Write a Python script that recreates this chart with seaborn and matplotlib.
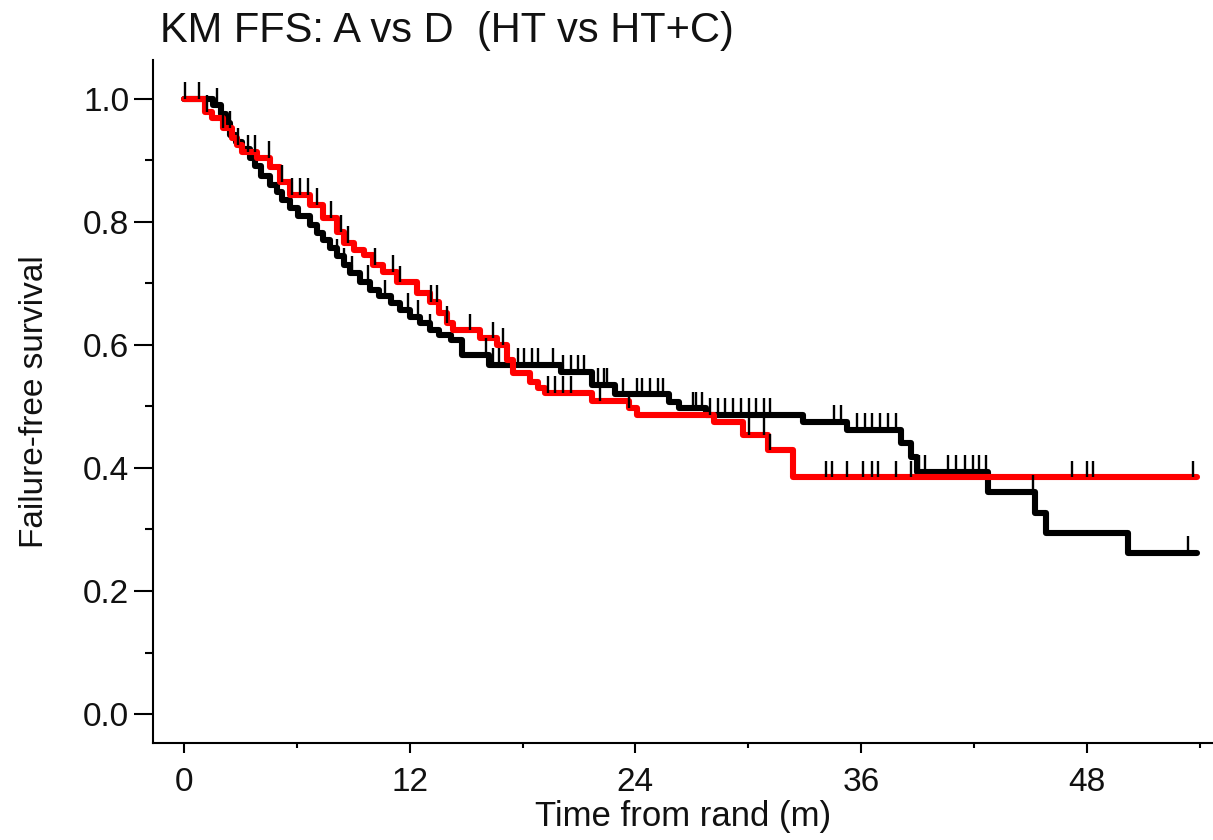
import numpy as np
import pandas as pd
import matplotlib
matplotlib.use("Agg")
import matplotlib.pyplot as plt
import seaborn as sns
from matplotlib.ticker import MultipleLocator

# step points of the two KM curves (time in months, survival after the step)
arm_a_time = [0, 1.54, 1.95, 2.26, 2.47, 2.78, 3.08, 3.5, 3.8, 4.11, 4.57, 4.93, 5.24, 5.65,
              6.07, 6.68, 7.09, 7.4, 7.76, 8.12, 8.53, 8.84, 9.35, 9.87, 10.38, 11.0, 11.51,
              12.03, 12.54, 13.06, 13.57, 14.19, 14.8, 16.24, 20.05, 21.69, 22.92, 25.8,
              26.32, 27.76, 32.9, 35.26, 38.14, 38.65, 38.96, 42.76, 45.23, 45.85, 50.17]
arm_a_surv = [1.0, 0.99, 0.975, 0.96, 0.941, 0.93, 0.918, 0.904, 0.89, 0.875, 0.86, 0.848,
              0.836, 0.823, 0.81, 0.795, 0.782, 0.77, 0.758, 0.745, 0.73, 0.717, 0.703, 0.69,
              0.679, 0.668, 0.657, 0.646, 0.635, 0.624, 0.616, 0.608, 0.584, 0.568, 0.556,
              0.535, 0.52, 0.507, 0.497, 0.486, 0.475, 0.462, 0.44, 0.418, 0.394, 0.361,
              0.327, 0.294, 0.262]
arm_a_end = 53.87

arm_d_time = [0, 1.13, 1.49, 2.06, 2.57, 2.83, 3.08, 3.91, 4.57, 5.09, 5.65, 6.68, 7.4, 8.12,
              8.53, 9.05, 9.56, 10.07, 10.59, 11.31, 12.39, 13.06, 13.57, 13.98, 14.29, 15.73,
              16.65, 17.17, 17.48, 18.4, 18.81, 19.22, 21.69, 23.64, 24.06, 28.17, 29.71,
              31.05, 32.38]
arm_d_surv = [1.0, 0.979, 0.969, 0.953, 0.937, 0.925, 0.914, 0.904, 0.889, 0.865, 0.844,
              0.828, 0.807, 0.784, 0.766, 0.754, 0.746, 0.73, 0.719, 0.702, 0.685, 0.67,
              0.652, 0.636, 0.624, 0.611, 0.6, 0.576, 0.555, 0.54, 0.53, 0.522, 0.509, 0.497,
              0.486, 0.475, 0.454, 0.429, 0.385]
arm_d_end = 53.87

# censoring times
arm_a_cens = [1.75, 8.12, 8.53, 8.94, 9.77, 10.69, 11.92, 12.44, 13.06, 14.8, 16.04, 16.45,
              16.76, 17.78, 18.09, 18.5, 18.81, 19.63, 20.15, 20.56, 20.97, 21.28, 22.0,
              22.31, 22.51, 23.34, 24.06, 24.36, 24.77, 25.19, 25.49, 27.04, 27.24, 27.55,
              27.96, 28.37, 28.78, 29.2, 29.61, 30.02, 30.43, 30.84, 31.15, 34.54, 34.95,
              35.77, 36.19, 36.6, 37.01, 37.42, 37.83, 39.06, 39.37, 40.61, 41.02, 41.53,
              41.94, 42.25, 42.66, 45.13, 53.35]
arm_d_cens = [0.05, 0.82, 1.23, 2.06, 2.47, 2.88, 3.39, 3.8, 4.52, 5.24, 5.76, 6.17, 6.58,
              7.09, 7.81, 8.33, 8.74, 10.18, 11.1, 11.51, 13.16, 13.47, 13.98, 15.21, 16.45,
              16.96, 19.33, 19.74, 20.15, 20.56, 22.1, 23.64, 30.02, 30.84, 31.15, 34.13,
              34.44, 35.26, 36.08, 36.6, 36.91, 37.83, 38.65, 47.19, 48.01, 48.32, 53.66]

arms = ["A (HT)", "D (HT+C)"]
colors = {"A (HT)": "black", "D (HT+C)": "#ff0000"}

frames = []
for name, t, s, end in [(arms[0], arm_a_time, arm_a_surv, arm_a_end),
                        (arms[1], arm_d_time, arm_d_surv, arm_d_end)]:
    frames.append(pd.DataFrame({"time": t + [end], "surv": s + [s[-1]], "arm": name}))
km = pd.concat(frames, ignore_index=True)

sns.set_theme(style="ticks")
plt.rcParams["font.family"] = ["Liberation Sans", "DejaVu Sans"]

fig = plt.figure(figsize=(12.13, 8.4), dpi=100)
ax = fig.add_axes([0.126, 0.1155, 0.874, 0.813])

sns.lineplot(data=km, x="time", y="surv", hue="arm", hue_order=arms, palette=colors,
             drawstyle="steps-post", estimator=None, sort=False, legend=False,
             linewidth=4.4, ax=ax)

# censor marks: short black spikes standing on each curve
for t, s, cens in [(arm_a_time, arm_a_surv, arm_a_cens), (arm_d_time, arm_d_surv, arm_d_cens)]:
    idx = np.searchsorted(np.array(t), np.array(cens), side="right") - 1
    lev = np.array(s)[idx]
    ax.vlines(cens, lev, lev + 0.027, color="black", linewidth=1.7, zorder=5)

ax.set_xlim(-1.65, 54.7)
ax.set_ylim(-0.047, 1.063)
ax.set_xticks([0, 12, 24, 36, 48])
ax.xaxis.set_minor_locator(MultipleLocator(6))
yt = [0.0, 0.2, 0.4, 0.6, 0.8, 1.0]
ax.set_yticks(yt)
ax.set_yticklabels([f"{v:.1f}" for v in yt])
ax.yaxis.set_minor_locator(MultipleLocator(0.1))

ax.tick_params(axis="y", which="major", length=14, width=1.5, pad=3, labelsize=24,
               color="black", labelcolor="#111111")
ax.tick_params(axis="y", which="minor", length=6, width=1.5, color="black")
ax.tick_params(axis="x", which="major", length=7.5, width=1.5, pad=10, labelsize=24,
               color="black", labelcolor="#111111")
ax.tick_params(axis="x", which="minor", length=3.5, width=1.5, color="black")

sns.despine(ax=ax)
for side in ["left", "bottom"]:
    ax.spines[side].set_linewidth(1.5)
    ax.spines[side].set_color("black")

ax.set_xlabel("Time from rand (m)", fontsize=25, color="#111111", labelpad=1)
ax.set_ylabel("Failure-free survival", fontsize=24, color="#111111", labelpad=24)

fig.text(0.132, 0.95, "KM FFS: A vs D  (HT vs HT+C)", fontsize=30, ha="left",
         va="baseline", color="#111111")

fig.savefig("out.png", dpi=100)
